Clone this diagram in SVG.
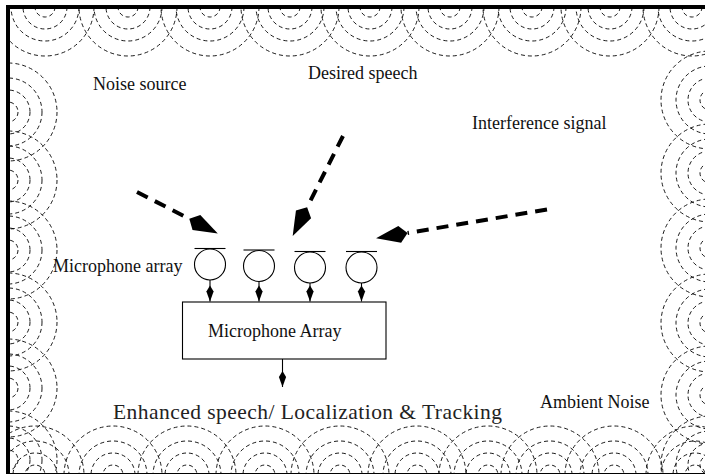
<svg xmlns="http://www.w3.org/2000/svg" xmlns:xlink="http://www.w3.org/1999/xlink" width="705" height="474" viewBox="0 0 705 474">
<style>
.lbl{font-family:"Liberation Serif","Times New Roman",serif;font-size:18px;fill:#111}
.big{font-family:"Liberation Serif","Times New Roman",serif;font-size:21.5px;fill:#222}
.ring circle{fill:none;stroke:#000;stroke-width:0.9;stroke-dasharray:4 3}
.mic{fill:#fff;stroke:#000;stroke-width:1.1}
.bar{stroke:#000;stroke-width:1.1}
.src{fill:none;stroke:#000;stroke-width:4;stroke-dasharray:12 8}
.feed{fill:none;stroke:#000;stroke-width:1.1}
</style>
<defs>
<g id="ring" class="ring">
<circle r="10"/><circle r="22"/><circle r="34"/><circle r="49"/>
</g>
<clipPath id="frame"><rect x="8" y="7" width="700" height="470"/></clipPath>
<marker id="bigHead" markerUnits="userSpaceOnUse" orient="auto" overflow="visible" refX="0" refY="0" markerWidth="40" markerHeight="20">
<path d="M0,0 L8,-8.5 L32,0 L8,8.5 Z" fill="#000"/>
</marker>
<marker id="smallHead" markerUnits="userSpaceOnUse" orient="auto" overflow="visible" refX="16" refY="0" markerWidth="20" markerHeight="10">
<path d="M0,0 L6,-3.6 L16,0 L6,3.6 Z" fill="#000"/>
</marker>
</defs>
<rect width="705" height="474" fill="#fff"/>
<g id="ambient-waves" clip-path="url(#frame)">
<use xlink:href="#ring" x="45" y="7"/>
<use xlink:href="#ring" x="128" y="7"/>
<use xlink:href="#ring" x="210" y="7"/>
<use xlink:href="#ring" x="290" y="7"/>
<use xlink:href="#ring" x="370" y="7"/>
<use xlink:href="#ring" x="450" y="7"/>
<use xlink:href="#ring" x="532" y="7"/>
<use xlink:href="#ring" x="610" y="7"/>
<use xlink:href="#ring" x="692" y="7"/>
<use xlink:href="#ring" x="8" y="112"/>
<use xlink:href="#ring" x="8" y="180"/>
<use xlink:href="#ring" x="8" y="250"/>
<use xlink:href="#ring" x="8" y="322"/>
<use xlink:href="#ring" x="8" y="388"/>
<use xlink:href="#ring" x="8" y="460"/>
<use xlink:href="#ring" x="710" y="100"/>
<use xlink:href="#ring" x="710" y="173"/>
<use xlink:href="#ring" x="710" y="248"/>
<use xlink:href="#ring" x="710" y="323"/>
<use xlink:href="#ring" x="710" y="395"/>
<use xlink:href="#ring" x="710" y="465"/>
<use xlink:href="#ring" x="35" y="475"/>
<use xlink:href="#ring" x="113" y="475"/>
<use xlink:href="#ring" x="187" y="475"/>
<use xlink:href="#ring" x="265" y="475"/>
<use xlink:href="#ring" x="340" y="475"/>
<use xlink:href="#ring" x="417" y="475"/>
<use xlink:href="#ring" x="488" y="475"/>
<use xlink:href="#ring" x="550" y="475"/>
<use xlink:href="#ring" x="614" y="475"/>
<use xlink:href="#ring" x="695" y="475"/>
</g>
<g id="frame-border" stroke="#000" stroke-width="4" fill="none">
<line x1="8" y1="7" x2="705" y2="7"/>
<line x1="8" y1="5" x2="8" y2="474"/>
<line x1="8" y1="475" x2="705" y2="475"/>
</g>
<g id="label-noise-source"><text class="lbl" x="93" y="90">Noise source</text></g>
<g id="label-desired-speech"><text class="lbl" x="308" y="79">Desired speech</text></g>
<g id="label-interference"><text class="lbl" x="472" y="129">Interference signal</text></g>
<g id="label-mic-array"><text class="lbl" x="53" y="272">Microphone array</text></g>
<g id="label-ambient-noise"><text class="lbl" x="540" y="408">Ambient Noise</text></g>
<g id="label-output"><text class="big" x="113" y="419" textLength="389" lengthAdjust="spacing">Enhanced speech/ Localization &amp; Tracking</text></g>
<g id="mic1"><line class="bar" x1="194.5" y1="248.5" x2="225.5" y2="248.5"/><circle class="mic" cx="210" cy="264.5" r="15.5"/></g>
<g id="mic2"><line class="bar" x1="243.5" y1="250" x2="274.5" y2="250"/><circle class="mic" cx="259" cy="266" r="15.5"/></g>
<g id="mic3"><line class="bar" x1="294.5" y1="251.5" x2="325.5" y2="251.5"/><circle class="mic" cx="310" cy="267.5" r="15.5"/></g>
<g id="mic4"><line class="bar" x1="346" y1="251.5" x2="377" y2="251.5"/><circle class="mic" cx="361.5" cy="267.5" r="15.5"/></g>
<g id="array-box"><rect x="182.5" y="302" width="203.5" height="57" fill="#fff" stroke="#000" stroke-width="1.1"/><text class="lbl" x="208" y="336.5">Microphone Array</text></g>
<g id="connectors">
<path class="src" d="M137,192 L189.3,218.8" marker-end="url(#bigHead)"/>
<path class="src" d="M343,136 L307.1,207.3" marker-end="url(#bigHead)"/>
<path class="src" d="M547,209.5 L407.6,233" marker-end="url(#bigHead)"/>
<path class="feed" d="M210,280 V301.5" marker-end="url(#smallHead)"/>
<path class="feed" d="M259,281.5 V301.5" marker-end="url(#smallHead)"/>
<path class="feed" d="M310,283 V301.5" marker-end="url(#smallHead)"/>
<path class="feed" d="M361.5,283 V301.5" marker-end="url(#smallHead)"/>
<path class="feed" d="M282.5,359 V387" marker-end="url(#smallHead)"/>
</g>
</svg>
